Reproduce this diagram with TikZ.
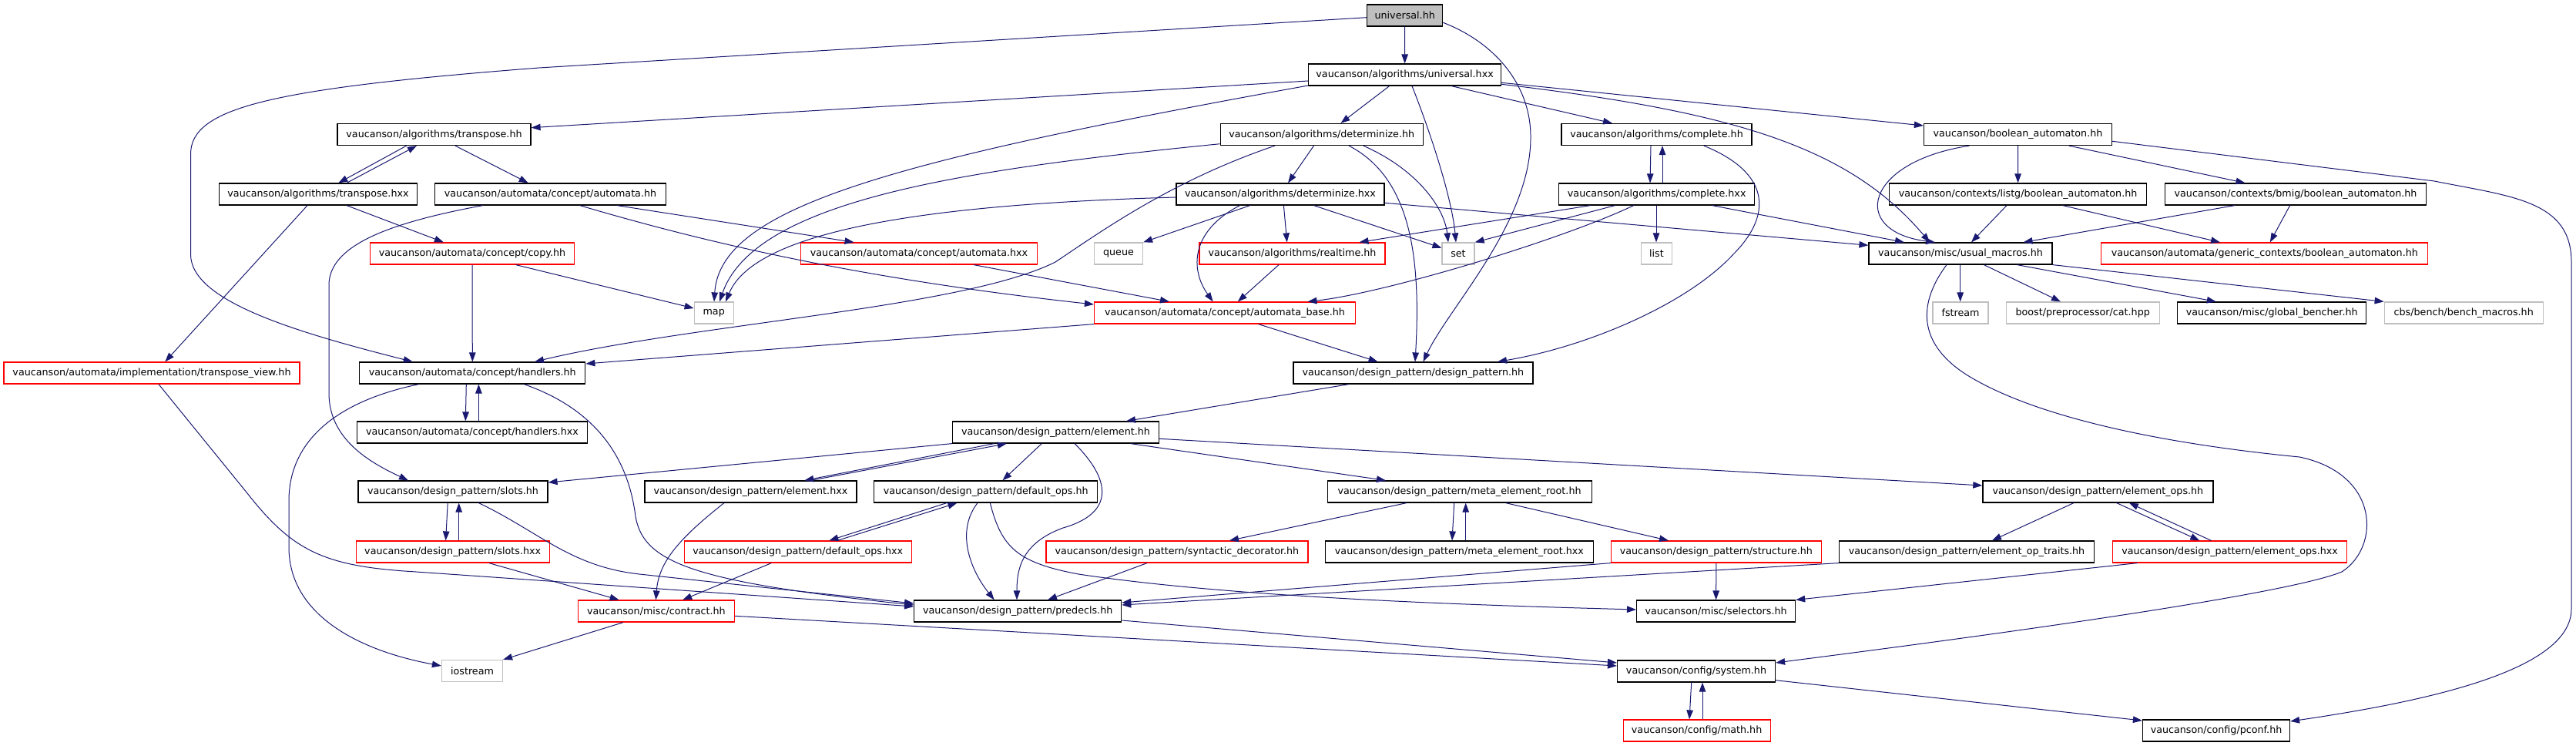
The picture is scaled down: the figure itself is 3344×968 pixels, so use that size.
\documentclass[tikz,border=0pt]{standalone}
\usepackage{fontspec}
\setmainfont{DejaVu Sans}
\usetikzlibrary{arrows.meta}
\definecolor{edgec}{RGB}{25,25,112}
\definecolor{gb}{RGB}{191,191,191}
\begin{document}
\begin{tikzpicture}[x=1pt,y=-1pt,
  box/.style={rectangle, minimum height=28pt, inner xsep=0pt, inner ysep=0pt, font=\fontsize{12.7}{15}\selectfont, line width=1.2pt, fill=white},
  nb/.style={box, draw=black},
  nr/.style={box, draw=red},
  ng/.style={box, draw=gb},
  nroot/.style={box, draw=black, fill=gb},
  e/.style={draw=edgec, line width=1pt, -{Triangle[length=12pt,width=8.5pt]}}]
\useasboundingbox (0,0) rectangle (3344,968);
% row 1-2
\node[nroot, minimum width=98pt] (uh) at (1823.7,20) {universal.hh};
\node[nb, minimum width=250pt] (uhxx) at (1823.6,97) {vaucanson/algorithms/universal.hxx};
% row 3
\node[nb, minimum width=251pt] (trh) at (563.5,174.5) {vaucanson/algorithms/transpose.hh};
\node[nb, minimum width=263pt] (deth) at (1715.7,174.5) {vaucanson/algorithms/determinize.hh};
\node[nb, minimum width=247pt] (comh) at (2150.5,174.5) {vaucanson/algorithms/complete.hh};
\node[nb, minimum width=244pt] (boolh) at (2619.5,174.5) {vaucanson/boolean\_automaton.hh};
% row 4
\node[nb, minimum width=257pt] (trhxx) at (413,252) {vaucanson/algorithms/transpose.hxx};
\node[nb, minimum width=300pt] (autoh) at (714.5,252) {vaucanson/automata/concept/automata.hh};
\node[nb, minimum width=270pt] (dethxx) at (1662,252) {vaucanson/algorithms/determinize.hxx};
\node[nb, minimum width=254pt] (comhxx) at (2150.7,252) {vaucanson/algorithms/complete.hxx};
\node[nb, minimum width=334pt] (listg) at (2619.6,252) {vaucanson/contexts/listg/boolean\_automaton.hh};
\node[nb, minimum width=339pt] (bmig) at (2980,252) {vaucanson/contexts/bmig/boolean\_automaton.hh};
% row 5
\node[nr, minimum width=265pt] (copy) at (613,329) {vaucanson/automata/concept/copy.hh};
\node[nr, minimum width=307pt] (autohxx) at (1193,329) {vaucanson/automata/concept/automata.hxx};
\node[ng, minimum width=63pt] (queue) at (1452,329) {queue};
\node[nr, minimum width=241pt] (realtime) at (1677.5,329) {vaucanson/algorithms/realtime.hh};
\node[ng, minimum width=42pt] (set) at (1893,329) {set};
\node[ng, minimum width=40pt] (list) at (2150.4,329) {list};
\node[nb, minimum width=238pt] (usual) at (2545,329) {vaucanson/misc/usual\_macros.hh};
\node[nr, minimum width=424pt] (genctx) at (2939.8,329) {vaucanson/automata/generic\_contexts/boolean\_automaton.hh};
% row 6
\node[ng, minimum width=51pt] (map) at (926.7,406) {map};
\node[nr, minimum width=339pt] (abase) at (1590,406) {vaucanson/automata/concept/automata\_base.hh};
\node[ng, minimum width=72pt] (fstream) at (2545,406) {fstream};
\node[ng, minimum width=199pt] (cat) at (2703.7,406) {boost/preprocessor/cat.hpp};
\node[nb, minimum width=245pt] (bencher) at (2949.2,406) {vaucanson/misc/global\_bencher.hh};
\node[ng, minimum width=206pt] (benchmac) at (3198.2,406) {cbs/bench/bench\_macros.hh};
% row 7
\node[nr, minimum width=384pt] (tview) at (197,484) {vaucanson/automata/implementation/transpose\_view.hh};
\node[nb, minimum width=293pt] (handh) at (613.3,484) {vaucanson/automata/concept/handlers.hh};
\node[nb, minimum width=311pt] (dp) at (1834.4,484) {vaucanson/design\_pattern/design\_pattern.hh};
% row 8
\node[nb, minimum width=299pt] (handhxx) at (612.9,561) {vaucanson/automata/concept/handlers.hxx};
\node[nb, minimum width=268pt] (elemh) at (1370.5,561) {vaucanson/design\_pattern/element.hh};
% row 9
\node[nb, minimum width=246pt] (slotsh) at (588,638) {vaucanson/design\_pattern/slots.hh};
\node[nb, minimum width=275pt] (elemhxx) at (974.4,638) {vaucanson/design\_pattern/element.hxx};
\node[nb, minimum width=290pt] (defh) at (1279.7,638) {vaucanson/design\_pattern/default\_ops.hh};
\node[nb, minimum width=343pt] (merh) at (1894.6,638) {vaucanson/design\_pattern/meta\_element\_root.hh};
\node[nb, minimum width=299pt] (eopsh) at (2723.4,638) {vaucanson/design\_pattern/element\_ops.hh};
% row 10
\node[nr, minimum width=251pt] (slotshxx) at (587.7,716) {vaucanson/design\_pattern/slots.hxx};
\node[nr, minimum width=295pt] (defhxx) at (1035.7,716) {vaucanson/design\_pattern/default\_ops.hxx};
\node[nr, minimum width=340pt] (syndec) at (1527.9,716) {vaucanson/design\_pattern/syntactic\_decorator.hh};
\node[nb, minimum width=348pt] (merhxx) at (1894.4,716) {vaucanson/design\_pattern/meta\_element\_root.hxx};
\node[nr, minimum width=273pt] (struct) at (2227.9,716) {vaucanson/design\_pattern/structure.hh};
\node[nb, minimum width=331pt] (eoptraits) at (2553,716) {vaucanson/design\_pattern/element\_op\_traits.hh};
\node[nr, minimum width=304pt] (eopshxx) at (2894.6,716) {vaucanson/design\_pattern/element\_ops.hxx};
% row 11
\node[nr, minimum width=203pt] (contract) at (851.9,793) {vaucanson/misc/contract.hh};
\node[nb, minimum width=269pt] (predecls) at (1321.2,793) {vaucanson/design\_pattern/predecls.hh};
\node[nb, minimum width=206pt] (selectors) at (2227.6,793) {vaucanson/misc/selectors.hh};
% row 12-13
\node[ng, minimum width=79pt] (iostream) at (613,870.5) {iostream};
\node[nb, minimum width=205pt] (system) at (2202,871) {vaucanson/config/system.hh};
\node[nr, minimum width=191pt] (math) at (2202.6,948) {vaucanson/config/math.hh};
\node[nb, minimum width=191pt] (pconf) at (2877,948) {vaucanson/config/pconf.hh};

% ---------- edges ----------
\draw[e] (uh.south) -- (uhxx.north);
\draw[e] (uh.west |- 0,22.7) -- (700,88) .. controls (350,115) and (247.5,140) .. (247.5,200) -- (247.5,330) .. controls (247.5,390) and (380,430) .. (handh.north -| 535.7,0);
\draw[e] (uh.east |- 0,29.3) .. controls (1940,55) and (1988,110) .. (1987,180) .. controls (1986,290) and (1880,400) .. (dp.north -| 1847.5,0);
\draw[e] (uhxx.west |- 0,105) -- (trh.east |- 0,165.7);
\draw[e] (uhxx.west |- 0,111) .. controls (1150,210) and (935,270) .. (map.north -| 927,0);
\draw[e] (uhxx.south -| 1803.6,0) -- (deth.north -| 1740.4,0);
\draw[e] (uhxx.south -| 1833,0) .. controls (1860,180) and (1885,260) .. (set.north -| 1890,0);
\draw[e] (uhxx.south -| 1884,0) -- (comh.north -| 2093,0);
\draw[e] (uhxx.east |- 0,107.3) -- (boolh.west |- 0,163);
\draw[e] (uhxx.east |- 0,109.3) .. controls (2250,145) and (2400,190) .. (usual.north -| 2505,0);
\draw[e] (trh.south -| 527.7,0) -- (trhxx.north -| 439.3,0);
\draw[e] (trhxx.north -| 450,0) -- (trh.south -| 541,0);
\draw[e] (trh.south -| 590.9,0) -- (autoh.north -| 685.7,0);
\draw[e] (trhxx.south -| 450,0) -- (copy.north -| 575.9,0);
\draw[e] (trhxx.south -| 399,0) -- (tview.north -| 214.3,0);
\draw[e] (autoh.south -| 626.8,0) .. controls (500,290) and (427,320) .. (427,370) -- (427,510) .. controls (427,570) and (480,600) .. (slotsh.north -| 530,0);
\draw[e] (autoh.south -| 801,0) -- (autohxx.north -| 1108.6,0);
\draw[e] (autoh.south -| 752.7,0) .. controls (900,310) and (1100,360) .. (abase.west |- 0,395);
\draw[e] (copy.south) -- (handh.north);
\draw[e] (copy.south -| 669.6,0) -- (map.west |- 0,400);
\draw[e] (autohxx.south -| 1264,0) -- (abase.north -| 1518,0);
\draw[e] (deth.west |- 0,186.7) .. controls (1250,220) and (980,260) .. (map.north -| 934,0);
\draw[e] (deth.south -| 1655,0) .. controls (1520,235) and (1430,300) .. (1370,340) .. controls (1250,400) and (900,420) .. (handh.north -| 694,0);
\draw[e] (abase.south west) -- (handh.east |- 0,472);
\draw[e] (deth.south -| 1705.5,0) -- (dethxx.north -| 1672,0);
\draw[e] (deth.south -| 1769.8,0) .. controls (1840,220) and (1875,270) .. (set.north -| 1880,0);
\draw[e] (deth.south -| 1751,0) .. controls (1830,230) and (1845,330) .. (dp.north -| 1837,0);
\draw[e] (dethxx.south -| 1622.8,0) -- (queue.north east);
\draw[e] (dethxx.west |- 0,256) .. controls (1200,265) and (980,300) .. (map.north -| 942,0);
\draw[e] (dethxx.south -| 1609.5,0) .. controls (1545,300) and (1545,350) .. (abase.north -| 1574.6,0);
\draw[e] (dethxx.south -| 1666.4,0) -- (realtime.north -| 1670.7,0);
\draw[e] (dethxx.south -| 1705.5,0) -- (set.west |- 0,321.7);
\draw[e] (dethxx.east |- 0,263.3) -- (usual.west |- 0,318.3);
\draw[e] (realtime.south -| 1660,0) -- (abase.north -| 1606.8,0);
\draw[e] (comh.south -| 2143,0) -- (comhxx.north -| 2142,0);
\draw[e] (comhxx.north -| 2158,0) -- (comh.south -| 2158,0);
\draw[e] (comh.south -| 2211.8,0) .. controls (2300,225) and (2300,280) .. (2250,330) .. controls (2190,395) and (2060,450) .. (dp.north -| 1944,0);
\draw[e] (comhxx.south -| 2064.5,0) -- (realtime.north -| 1764.5,0);
\draw[e] (comhxx.south -| 2096.6,0) -- (set.north east);
\draw[e] (comhxx.south -| 2120.7,0) .. controls (2030,310) and (1800,380) .. (abase.north -| 1697.5,0);
\draw[e] (comhxx.south -| 2150,0) -- (list.north -| 2150,0);
\draw[e] (comhxx.south -| 2222.5,0) -- (usual.north -| 2472,0);
\draw[e] (boolh.south -| 2556.5,0) .. controls (2420,210) and (2400,300) .. (usual.north -| 2512,0);
\draw[e] (boolh.south) -- (listg.north);
\draw[e] (boolh.south -| 2685.7,0) -- (bmig.north -| 2914.5,0);
\draw[e] (boolh.east |- 0,183.3) -- (3160,235) .. controls (3260,255) and (3338,260) .. (3338,340) -- (3338,790) .. controls (3338,870) and (3150,910) .. (pconf.east |- 0,936);
\draw[e] (listg.south -| 2605,0) -- (usual.north -| 2559,0);
\draw[e] (listg.south -| 2677.6,0) -- (genctx.north -| 2882,0);
\draw[e] (bmig.south -| 2901,0) -- (usual.north -| 2626.5,0);
\draw[e] (bmig.south -| 2972.6,0) -- (genctx.north -| 2946.8,0);
\draw[e] (usual.south -| 2544.7,0) -- (fstream.north -| 2544.7,0);
\draw[e] (usual.south -| 2575.4,0) -- (cat.north -| 2675,0);
\draw[e] (usual.south -| 2618.4,0) -- (bencher.north -| 2876.8,0);
\draw[e] (usual.south east) -- (benchmac.north west);
\draw[e] (usual.south -| 2527,0) .. controls (2485,400) and (2495,450) .. (2554,487) .. controls (2640,540) and (2800,575) .. (2985,593) .. controls (3090,615) and (3090,710) .. (3040,742) .. controls (2960,775) and (2500,835) .. (system.east |- 0,860);
\draw[e] (handh.south -| 605.3,0) -- (handhxx.north -| 604.3,0);
\draw[e] (handhxx.north -| 621.4,0) -- (handh.south -| 621.4,0);
\draw[e] (handh.south -| 543.7,0) .. controls (440,520) and (375,570) .. (375,650) -- (375,710) .. controls (375,800) and (470,845) .. (iostream.west |- 0,864);
\draw[e] (handh.south -| 680.3,0) .. controls (770,530) and (815,590) .. (825,670) .. controls (835,730) and (900,755) .. (predecls.west |- 0,785);
\draw[e] (slotsh.south -| 581.2,0) -- (slotshxx.north -| 578.6,0);
\draw[e] (slotshxx.north -| 595.7,0) -- (slotsh.south -| 595.7,0);
\draw[e] (slotsh.south -| 621.4,0) .. controls (700,690) and (740,735) .. (830,745) -- (predecls.west |- 0,783);
\draw[e] (tview.south -| 206,0) -- (321,640) .. controls (380,715) and (420,735) .. (540,742) -- (predecls.west |- 0,787);
\draw[e] (slotshxx.south -| 634.8,0) -- (contract.north -| 803.6,0);
\draw[e] (contract.south -| 809,0) -- (iostream.north east);
\draw[e] (contract.east |- 0,799.3) -- (system.west |- 0,864);
\draw[e] (predecls.east |- 0,805) -- (system.west |- 0,860);
\draw[e] (elemhxx.south -| 940,0) .. controls (880,700) and (855,730) .. (contract.north -| 851.4,0);
\draw[e] (defhxx.south -| 1001.4,0) -- (contract.north -| 886.2,0);
\draw[e] (defh.south -| 1229,0) -- (defhxx.north -| 1076.4,0);
\draw[e] (defhxx.north -| 1087,0) -- (defh.south -| 1242.5,0);
\draw[e] (defh.south -| 1269,0) .. controls (1240,690) and (1260,740) .. (predecls.north -| 1290.7,0);
\draw[e] (elemh.south -| 1395,0) .. controls (1440,620) and (1450,665) .. (1380,685) .. controls (1325,705) and (1320,740) .. (predecls.north -| 1320,0);
\draw[e] (defh.south -| 1285.3,0) .. controls (1300,710) and (1320,730) .. (1400,745) .. controls (1600,775) and (1900,785) .. (selectors.west |- 0,791);
\draw[e] (syndec.south -| 1489,0) -- (predecls.north -| 1360,0);
\draw[e] (struct.south west) -- (predecls.east |- 0,782);
\draw[e] (eoptraits.south west) -- (predecls.east |- 0,785);
\draw[e] (struct.south) -- (selectors.north);
\draw[e] (eopshxx.south -| 2774.5,0) -- (selectors.north east);
\draw[e] (system.south -| 2195.7,0) -- (math.north -| 2193,0);
\draw[e] (math.north -| 2210,0) -- (system.south -| 2210,0);
\draw[e] (system.east |- 0,882.7) -- (pconf.west |- 0,935);
\draw[e] (dp.south -| 1751,0) -- (elemh.north -| 1462,0);
\draw[e] (elemh.south west) -- (slotsh.east |- 0,626);
\draw[e] (elemh.south -| 1290.7,0) -- (elemhxx.north -| 1044.3,0);
\draw[e] (elemhxx.north -| 1052.3,0) -- (elemh.south -| 1306.8,0);
\draw[e] (elemh.south -| 1352.3,0) -- (defh.north -| 1301.4,0);
\draw[e] (elemh.south -| 1467.5,0) -- (merh.north -| 1799,0);
\draw[e] (elemh.east |- 0,569.3) -- (eopsh.west |- 0,630);
\draw[e] (merh.south -| 1826,0) -- (syndec.north -| 1596,0);
\draw[e] (merh.south -| 1887.7,0) -- (merhxx.north -| 1885,0);
\draw[e] (merhxx.north -| 1902.7,0) -- (merh.south -| 1902.7,0);
\draw[e] (merh.south -| 1954.6,0) -- (struct.north -| 2166,0);
\draw[e] (eopsh.south -| 2692,0) -- (eoptraits.north -| 2586,0);
\draw[e] (eopsh.south -| 2747.6,0) -- (eopshxx.north -| 2855.3,0);
\draw[e] (eopshxx.north -| 2870.4,0) -- (eopsh.south -| 2763.8,0);
\draw[e] (abase.south -| 1633.6,0) -- (dp.north -| 1788.6,0);
\end{tikzpicture}
\end{document}
